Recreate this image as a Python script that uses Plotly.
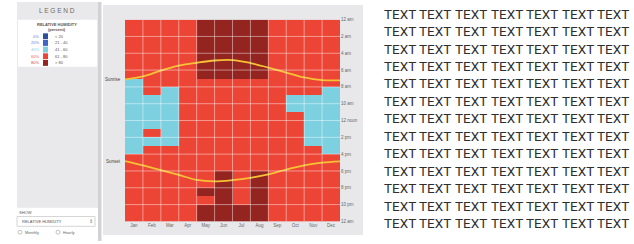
import plotly.graph_objects as go

W, H = 634, 244

# ---------------- data ----------------
months = ["Jan", "Feb", "Mar", "Apr", "May", "Jun", "Jul", "Aug", "Sep", "Oct", "Nov", "Dec"]
hours = list(range(24))
hour_tick_values = list(range(0, 25, 2))
hour_labels = ["12 am", "2 am", "4 am", "6 am", "8 am", "10 am", "12 noon",
               "2 pm", "4 pm", "6 pm", "8 pm", "10 pm", "12 am"]

legend_title = ["RELATIVE HUMIDITY", "(percent)"]
legend_labels = ["0%", "20%", "40%", "60%", "80%"]
legend_ranges = ["< 20", "21 - 40", "41 - 60", "61 - 80", "> 80"]
legend_colors = ["#2c4f9e", "#3f66c4", "#7dd0e0", "#ec4536", "#932420"]
legend_text_colors = ["#5a7bd0", "#5a7bd0", "#7fcfe0", "#ec5a4c", "#d0473c"]

# humidity class per hour (rows, 12am..11pm) and month (cols, Jan..Dec)
# 2 = 41-60 %, 3 = 61-80 %, 4 = > 80 %
humidity_rows = [
    "333344443333",
    "333344443333",
    "333344443333",
    "333344443333",
    "333344443333",
    "333344443333",
    "333344443333",
    "233333333333",
    "232333333332",
    "222333333222",
    "222333333222",
    "222333333322",
    "222333333322",
    "232333333322",
    "222333333322",
    "233333333332",
    "333333333333",
    "333333333333",
    "333334343333",
    "333334343333",
    "333344343333",
    "333334343333",
    "333344443333",
    "333344443333",
]

# sunrise / sunset (hour of day) at month boundaries, Jan 1 .. Dec 31
sunrise = [7.11, 6.76, 6.06, 5.48, 5.13, 4.86, 4.81, 5.16, 5.71, 6.29, 6.88, 7.20, 7.22]
sunset = [16.82, 17.33, 17.89, 18.47, 19.06, 19.23, 19.09, 18.82, 18.41, 17.83, 17.33, 17.02, 16.86]

text_rows = 13
text_words = ["TEXT"] * 7

# ---------------- helpers ----------------
def px(x):
    return x / W

def py(y):
    return 1 - y / H

z = [[int(ch) for ch in row] for row in humidity_rows]

scale_colors = legend_colors
colorscale = []
for i, c in enumerate(scale_colors):
    colorscale.append([i / len(scale_colors), c])
    colorscale.append([(i + 1) / len(scale_colors), c])

fig = go.Figure()

fig.add_trace(go.Heatmap(
    x=[m + 0.5 for m in range(len(months))],
    y=[h + 0.5 for h in hours],
    z=z,
    colorscale=colorscale,
    zmin=-0.5, zmax=4.5,
    showscale=False,
    hoverinfo="skip",
))

month_edges = list(range(len(months) + 1))
for series in (sunrise, sunset):
    fig.add_trace(go.Scatter(
        x=month_edges, y=series, mode="lines",
        line=dict(color="#f6c233", width=1.8, shape="spline"),
        hoverinfo="skip", showlegend=False,
    ))

shapes = []
# panels
shapes.append(dict(type="rect", xref="paper", yref="paper",
                   x0=px(17), x1=px(98), y0=py(210), y1=py(0),
                   fillcolor="#e9e9eb", line=dict(width=0), layer="below"))
shapes.append(dict(type="rect", xref="paper", yref="paper",
                   x0=px(18), x1=px(97), y0=py(66), y1=py(18),
                   fillcolor="#ffffff", line=dict(width=0), layer="below"))
shapes.append(dict(type="rect", xref="paper", yref="paper",
                   x0=px(98), x1=px(101.5), y0=py(244), y1=py(0),
                   fillcolor="#d2d2d5", line=dict(width=0), layer="below"))
shapes.append(dict(type="rect", xref="paper", yref="paper",
                   x0=px(103), x1=px(363), y0=py(238), y1=py(3),
                   fillcolor="#e8e8eb", line=dict(width=0), layer="below"))
# dropdown
shapes.append(dict(type="rect", xref="paper", yref="paper",
                   x0=px(17), x1=px(95), y0=py(229), y1=py(219),
                   fillcolor="#ffffff", line=dict(width=0.6, color="#bbbbbb"), layer="below"))
for cx in (20, 58):
    shapes.append(dict(type="circle", xref="paper", yref="paper",
                       x0=px(cx - 2), x1=px(cx + 2), y0=py(237), y1=py(233),
                       fillcolor="#ffffff", line=dict(width=0.6, color="#999999")))
# legend swatches
for i, c in enumerate(legend_colors):
    yc = 35 + i * 6.8
    shapes.append(dict(type="rect", xref="paper", yref="paper",
                       x0=px(43), x1=px(48), y0=py(yc + 3), y1=py(yc - 3),
                       fillcolor=c, line=dict(width=0)))
# grid lines over heatmap
for m in range(1, len(months)):
    shapes.append(dict(type="line", xref="x", yref="y", x0=m, x1=m, y0=0, y1=24,
                       line=dict(color="rgba(255,255,255,0.45)", width=1)))
for h in hour_tick_values[1:-1]:
    shapes.append(dict(type="line", xref="x", yref="y", x0=0, x1=12, y0=h, y1=h,
                       line=dict(color="rgba(255,255,255,0.45)", width=1)))

ann = []
ann.append(dict(x=px(57), y=py(9), xref="paper", yref="paper", text="L E G E N D",
                showarrow=False, font=dict(size=6.5, color="#6a6a6a", family="Arial Black, Liberation Sans"),
                xanchor="center", yanchor="middle"))
for i, t in enumerate(legend_title):
    ann.append(dict(x=px(57), y=py(23 + i * 5), xref="paper", yref="paper", text=f"<b>{t}</b>",
                    showarrow=False, font=dict(size=4, color="#555555", family="Liberation Sans"),
                    xanchor="center", yanchor="middle"))
for i in range(len(legend_labels)):
    yc = 35 + i * 6.8
    ann.append(dict(x=px(41), y=py(yc), xref="paper", yref="paper", text=legend_labels[i],
                    showarrow=False, font=dict(size=4, color=legend_text_colors[i], family="Liberation Sans"),
                    xanchor="right", yanchor="middle"))
    ann.append(dict(x=px(53), y=py(yc), xref="paper", yref="paper", text=legend_ranges[i],
                    showarrow=False, font=dict(size=4, color="#555555", family="Liberation Sans"),
                    xanchor="left", yanchor="middle"))
ann.append(dict(x=px(17), y=py(215), xref="paper", yref="paper", text="SHOW",
                showarrow=False, font=dict(size=4, color="#555555", family="Liberation Sans"),
                xanchor="left", yanchor="middle"))
ann.append(dict(x=px(20), y=py(224), xref="paper", yref="paper", text="RELATIVE HUMIDITY",
                showarrow=False, font=dict(size=4, color="#555555", family="Liberation Sans"),
                xanchor="left", yanchor="middle"))
ann.append(dict(x=px(91), y=py(224), xref="paper", yref="paper", text="⇕",
                showarrow=False, font=dict(size=5, color="#777777", family="DejaVu Sans"),
                xanchor="center", yanchor="middle"))
for cx, t in ((23, "Monthly"), (61, "Hourly")):
    ann.append(dict(x=px(cx), y=py(235), xref="paper", yref="paper", text=t,
                    showarrow=False, font=dict(size=4, color="#666666", family="Liberation Sans"),
                    xanchor="left", yanchor="middle"))
# sunrise / sunset labels
for t, series in (("Sunrise", sunrise), ("Sunset", sunset)):
    ann.append(dict(x=0, y=series[0], xref="x", yref="y", text=t, showarrow=False,
                    font=dict(size=4.5, color="#444444", family="Liberation Sans"),
                    xanchor="right", yanchor="middle", xshift=-2))
# right text block
for r in range(text_rows):
    for c, w in enumerate(text_words):
        ann.append(dict(x=px(400 + c * 35.5), y=py(12 + r * 17.8), xref="paper", yref="paper",
                        text=w, showarrow=False,
                        font=dict(size=13.5, color="#2e2e2e", family="Roboto"),
                        xanchor="center", yanchor="middle"))

fig.update_layout(
    width=W, height=H,
    margin=dict(l=0, r=0, t=0, b=0),
    paper_bgcolor="#ffffff",
    plot_bgcolor="rgba(0,0,0,0)",
    showlegend=False,
    shapes=shapes,
    annotations=ann,
    xaxis=dict(domain=[px(125), px(340)], range=[0, 12],
               tickvals=[m + 0.5 for m in range(len(months))], ticktext=months,
               tickfont=dict(size=4.5, color="#666666", family="Liberation Sans"),
               showgrid=False, zeroline=False, ticks="", ticklen=0, fixedrange=True),
    yaxis=dict(domain=[py(224), py(18)], range=[24, 0], side="right",
               tickvals=hour_tick_values, ticktext=hour_labels,
               tickfont=dict(size=4.5, color="#666666", family="Liberation Sans"),
               showgrid=False, zeroline=False, ticks="", ticklen=0, fixedrange=True),
)

fig.write_html(
    "out.html",
    config={"displayModeBar": False},
    post_script="document.body.style.margin='0';document.body.style.overflow='hidden';",
)
